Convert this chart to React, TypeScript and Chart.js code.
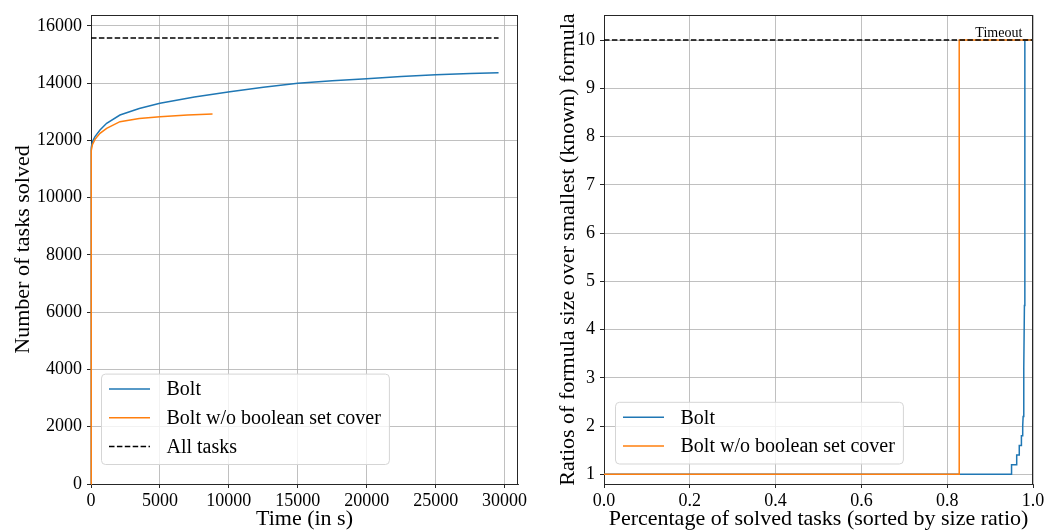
import React, { useEffect, useRef } from "react";
import { Chart, registerables } from "chart.js";

Chart.register(...registerables);

// ---------- Left panel data ----------
const boltTime = [0, 5, 30, 100, 290, 652, 1135, 2101, 3500, 5000, 7500, 10072, 12500, 15000, 17500, 20000, 22500, 25000, 27500, 29565];
const boltSolved = [0, 11000, 11750, 11960, 12134, 12367, 12600, 12890, 13120, 13299, 13520, 13705, 13860, 13997, 14090, 14160, 14235, 14300, 14340, 14369];
const noSetCoverTime = [0, 5, 30, 100, 290, 652, 1135, 2101, 3500, 5000, 7000, 8816];
const noSetCoverSolved = [0, 10900, 11650, 11850, 12041, 12251, 12426, 12657, 12770, 12832, 12890, 12926];
const allTasksCount = 15580;
const allTasksSpan = [0, 29565];
const leftXTicks = [0, 5000, 10000, 15000, 20000, 25000, 30000];
const leftYTicks = [0, 2000, 4000, 6000, 8000, 10000, 12000, 14000, 16000];
const leftXRange = [0, 30975];
const leftYRange = [0, 16384];

// ---------- Right panel data ----------
const boltPct = [0, 0.95, 0.95, 0.962, 0.962, 0.968, 0.968, 0.973, 0.973, 0.976, 0.976, 0.977, 0.978, 0.979, 0.98, 0.981, 0.981, 1.0];
const boltRatio = [1, 1, 1.2, 1.2, 1.4, 1.4, 1.6, 1.6, 1.8, 1.8, 2.0, 2.2, 2.6, 3.2, 4.5, 6.5, 10, 10];
const noSetCoverPct = [0, 0.828, 0.828, 1.0];
const noSetCoverRatio = [1, 1, 10, 10];
const timeoutValue = 10;
const rightXTicks = [0, 0.2, 0.4, 0.6, 0.8, 1.0];
const rightYTicks = [1, 2, 3, 4, 5, 6, 7, 8, 9, 10];
const rightXRange = [0, 1];
const rightYRange = [0.8, 10.52];

const labels = {
  bolt: "Bolt",
  noSetCover: "Bolt w/o boolean set cover",
  allTasks: "All tasks",
  timeout: "Timeout",
  leftX: "Time (in s)",
  leftY: "Number of tasks solved",
  rightX: "Percentage of solved tasks (sorted by size ratio)",
  rightY: "Ratios of formula size over smallest (known) formula",
};

const BLUE = "#1f77b4";
const ORANGE = "#ff7f0e";
const DARK = "#262626";
const BLACK = "#000000";
const FONT = '"Liberation Serif", "Times New Roman", serif';
const DASH = [5.5, 2.4];

const toPts = (xs: number[], ys: number[]) => xs.map((x, i) => ({ x, y: ys[i] }));

type LegendItem = { label: string; color: string; dash?: number[] };

function overlayPlugin(opts: {
  legend: LegendItem[];
  legendOffsetX: number;
  legendOffsetBottom: number;
  timeout?: { x: number; y: number; text: string };
}) {
  return {
    id: "overlay" + Math.random().toString(36).slice(2),
    afterDraw(chart: any) {
      const ctx = chart.ctx;
      const a = chart.chartArea;
      ctx.save();
      // top/right spines
      ctx.strokeStyle = DARK;
      ctx.lineWidth = 1;
      ctx.beginPath();
      ctx.moveTo(a.left, a.top + 0.5);
      ctx.lineTo(a.right, a.top + 0.5);
      ctx.moveTo(a.right - 0.5, a.top);
      ctx.lineTo(a.right - 0.5, a.bottom);
      ctx.stroke();

      // timeout annotation
      if (opts.timeout) {
        const xs = chart.scales.x;
        const ys = chart.scales.y;
        ctx.font = `14px ${FONT}`;
        ctx.fillStyle = "#000";
        ctx.textAlign = "right";
        ctx.textBaseline = "alphabetic";
        ctx.fillText(opts.timeout.text, xs.getPixelForValue(opts.timeout.x), ys.getPixelForValue(opts.timeout.y) - 3.5);
      }

      // legend
      ctx.font = `20px ${FONT}`;
      let maxW = 0;
      for (const it of opts.legend) maxW = Math.max(maxW, ctx.measureText(it.label).width);
      const n = opts.legend.length;
      const rowH = 28.7;
      const h = 15.5 + (n - 1) * rowH + 17.5;
      const w = 65.5 + maxW + 8;
      const bx = a.left + opts.legendOffsetX;
      const by = a.bottom - opts.legendOffsetBottom - h;
      ctx.beginPath();
      ctx.roundRect(bx + 0.5, by + 0.5, w, h, 4);
      ctx.fillStyle = "rgba(255,255,255,0.8)";
      ctx.fill();
      ctx.strokeStyle = "#d5d5d5";
      ctx.lineWidth = 1;
      ctx.stroke();
      opts.legend.forEach((it, i) => {
        const cy = by + 15.5 + i * rowH;
        ctx.beginPath();
        ctx.strokeStyle = it.color;
        ctx.lineWidth = 1.5;
        ctx.setLineDash(it.dash || []);
        ctx.moveTo(bx + 8, cy);
        ctx.lineTo(bx + 49, cy);
        ctx.stroke();
        ctx.setLineDash([]);
        ctx.fillStyle = "#000";
        ctx.textAlign = "left";
        ctx.textBaseline = "middle";
        ctx.fillText(it.label, bx + 65.5, cy + 1);
      });
      ctx.restore();
    },
  };
}

function axisOptions(
  range: number[],
  ticks: number[],
  title: string,
  isY: boolean,
  fmt: (v: number) => string,
  size: number,
  titlePad: number
) {
  return {
    type: "linear",
    min: range[0],
    max: range[1],
    afterBuildTicks: (s: any) => {
      s.ticks = ticks.map((v) => ({ value: v }));
    },
    afterFit: (s: any) => {
      if (isY) s.width = size;
      else s.height = size;
      s.paddingLeft = 0;
      s.paddingRight = 0;
      s.paddingTop = 0;
      s.paddingBottom = 0;
    },
    grid: {
      color: "#b0b0b0",
      lineWidth: 0.8,
      drawTicks: true,
      tickLength: 4,
      tickColor: DARK,
      tickWidth: 1,
    },
    border: { display: true, color: DARK, width: 1 },
    ticks: {
      autoSkip: false,
      maxRotation: 0,
      padding: isY ? 5 : 2,
      color: "#000",
      font: { family: FONT, size: 18 },
      callback: (v: any) => fmt(Number(v)),
    },
    title: {
      display: true,
      text: title,
      color: "#000",
      font: { family: FONT, size: 22 },
      padding: isY ? { top: titlePad, bottom: 0 } : { top: 0, bottom: titlePad },
    },
  };
}

function ChartPanel({ config, width }: { config: any; width: number }) {
  const ref = useRef<HTMLCanvasElement | null>(null);
  useEffect(() => {
    if (!ref.current) return;
    const c = new Chart(ref.current, config);
    return () => c.destroy();
  }, []);
  return <canvas ref={ref} width={width} height={532} style={{ width, height: 532, display: "block" }} />;
}

const leftConfig = {
  type: "line",
  data: {
    datasets: [
      { label: labels.bolt, data: toPts(boltTime, boltSolved), borderColor: BLUE, borderWidth: 1.5, pointRadius: 0, order: 3, tension: 0, clip: 2 },
      { label: labels.noSetCover, data: toPts(noSetCoverTime, noSetCoverSolved), borderColor: ORANGE, borderWidth: 1.5, pointRadius: 0, order: 2, tension: 0, clip: 2 },
      { label: labels.allTasks, data: toPts(allTasksSpan, [allTasksCount, allTasksCount]), borderColor: BLACK, borderWidth: 1.5, borderDash: DASH, pointRadius: 0, order: 1 },
    ],
  },
  options: {
    responsive: false,
    animation: false,
    parsing: false,
    layout: { padding: { left: 0, right: 22, top: 15, bottom: 0 } },
    plugins: { legend: { display: false }, tooltip: { enabled: false } },
    scales: {
      x: axisOptions(leftXRange, leftXTicks, labels.leftX, false, (v) => String(v), 48, 0),
      y: axisOptions(leftYRange, leftYTicks, labels.leftY, true, (v) => String(v), 91, 10),
    },
  },
  plugins: [
    overlayPlugin({
      legend: [
        { label: labels.bolt, color: BLUE },
        { label: labels.noSetCover, color: ORANGE },
        { label: labels.allTasks, color: BLACK, dash: DASH },
      ],
      legendOffsetX: 10,
      legendOffsetBottom: 20,
    }),
  ],
};

const rightConfig = {
  type: "line",
  data: {
    datasets: [
      { label: labels.bolt, data: toPts(boltPct, boltRatio), borderColor: BLUE, borderWidth: 1.5, pointRadius: 0, order: 3, tension: 0 },
      { label: labels.noSetCover, data: toPts(noSetCoverPct, noSetCoverRatio), borderColor: ORANGE, borderWidth: 1.5, pointRadius: 0, order: 2, tension: 0 },
      { label: labels.timeout, data: toPts(rightXRange, [timeoutValue, timeoutValue]), borderColor: BLACK, borderWidth: 1.5, borderDash: DASH, pointRadius: 0, order: 1 },
    ],
  },
  options: {
    responsive: false,
    animation: false,
    parsing: false,
    layout: { padding: { left: 0, right: 13, top: 15, bottom: 0 } },
    plugins: { legend: { display: false }, tooltip: { enabled: false } },
    scales: {
      x: axisOptions(rightXRange, rightXTicks, labels.rightX, false, (v) => v.toFixed(1), 48, 0),
      y: axisOptions(rightYRange, rightYTicks, labels.rightY, true, (v) => String(v), 64, 15),
    },
  },
  plugins: [
    overlayPlugin({
      legend: [
        { label: labels.bolt, color: BLUE },
        { label: labels.noSetCover, color: ORANGE },
      ],
      legendOffsetX: 11,
      legendOffsetBottom: 20.5,
      timeout: { x: 0.975, y: timeoutValue, text: labels.timeout },
    }),
  ],
};

export default function App() {
  return (
    <div style={{ position: "absolute", left: 0, top: 0, width: 1046, height: 532, background: "#fff" }}>
      <div style={{ position: "absolute", left: 0, top: 0 }}>
        <ChartPanel config={leftConfig} width={540} />
      </div>
      <div style={{ position: "absolute", left: 540, top: 0 }}>
        <ChartPanel config={rightConfig} width={506} />
      </div>
    </div>
  );
}
